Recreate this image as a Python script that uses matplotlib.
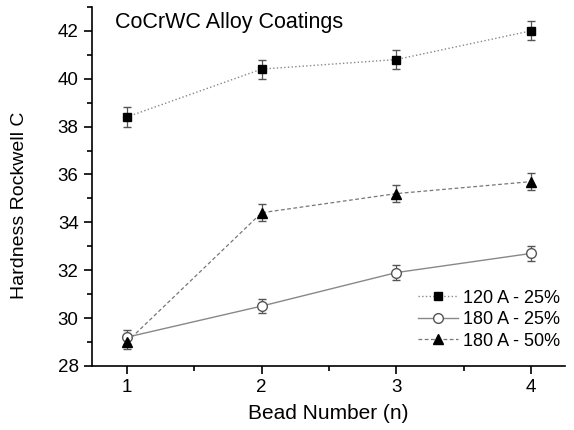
import matplotlib
matplotlib.use("Agg")
import matplotlib.pyplot as plt
from matplotlib.ticker import MultipleLocator

plt.rcParams['font.family'] = ['Liberation Sans', 'DejaVu Sans']

beads = [1, 2, 3, 4]
labels = ["120 A - 25%", "180 A - 25%", "180 A - 50%"]
hrc_120_25 = [38.4, 40.4, 40.8, 42.0]
err_120_25 = [0.4, 0.4, 0.4, 0.4]
hrc_180_25 = [29.2, 30.5, 31.9, 32.7]
err_180_25 = [0.3, 0.3, 0.3, 0.3]
hrc_180_50 = [29.0, 34.4, 35.2, 35.7]
err_180_50 = [0.3, 0.35, 0.35, 0.35]

fig = plt.figure(figsize=(5.74, 4.3), dpi=100)
ax = fig.add_axes([0.160, 0.149, 0.824, 0.835])

e1 = ax.errorbar(beads, hrc_120_25, yerr=err_120_25, fmt='s', ls=':', color='#888888',
                 mfc='black', mec='black', ms=6, lw=1, ecolor='#555555', elinewidth=0.9,
                 capsize=3)
e2 = ax.errorbar(beads, hrc_180_25, yerr=err_180_25, fmt='o', ls='-', color='#888888',
                 mfc='white', mec='#555555', ms=7, lw=1, ecolor='#555555', elinewidth=0.9,
                 capsize=3)
e3 = ax.errorbar(beads, hrc_180_50, yerr=err_180_50, fmt='^', ls='--', color='#777777',
                 mfc='black', mec='black', ms=7, lw=0.9, ecolor='#555555', elinewidth=0.9,
                 capsize=3, dashes=(3, 2))

ax.set_xlim(0.74, 4.25)
ax.set_ylim(28, 43)
ax.xaxis.set_major_locator(MultipleLocator(1))
ax.xaxis.set_minor_locator(MultipleLocator(0.5))
ax.yaxis.set_major_locator(MultipleLocator(2))
ax.yaxis.set_minor_locator(MultipleLocator(1))
ax.tick_params(which='major', direction='out', length=6, width=1.2, labelsize=13.5)
ax.tick_params(which='minor', direction='out', length=3.5, width=1.2)
for s in ['top', 'right']:
    ax.spines[s].set_visible(False)
for s in ['left', 'bottom']:
    ax.spines[s].set_linewidth(1.2)

ax.set_xlabel("Bead Number (n)", fontsize=15, labelpad=6)
ax.set_ylabel("Hardness Rockwell C", fontsize=14)
ax.yaxis.set_label_coords(-0.135, 0.448)
ax.text(0.05, 0.985, "CoCrWC Alloy Coatings", transform=ax.transAxes,
        fontsize=15.5, va='top', ha='left')

ax.legend([e1[0], e2[0], e3[0]], labels, loc='lower right',
          bbox_to_anchor=(1.025, 0.0), frameon=False, numpoints=1,
          fontsize=13, handlelength=2.2, handletextpad=0.3, labelspacing=0.25)

fig.savefig("out.png", dpi=100)
